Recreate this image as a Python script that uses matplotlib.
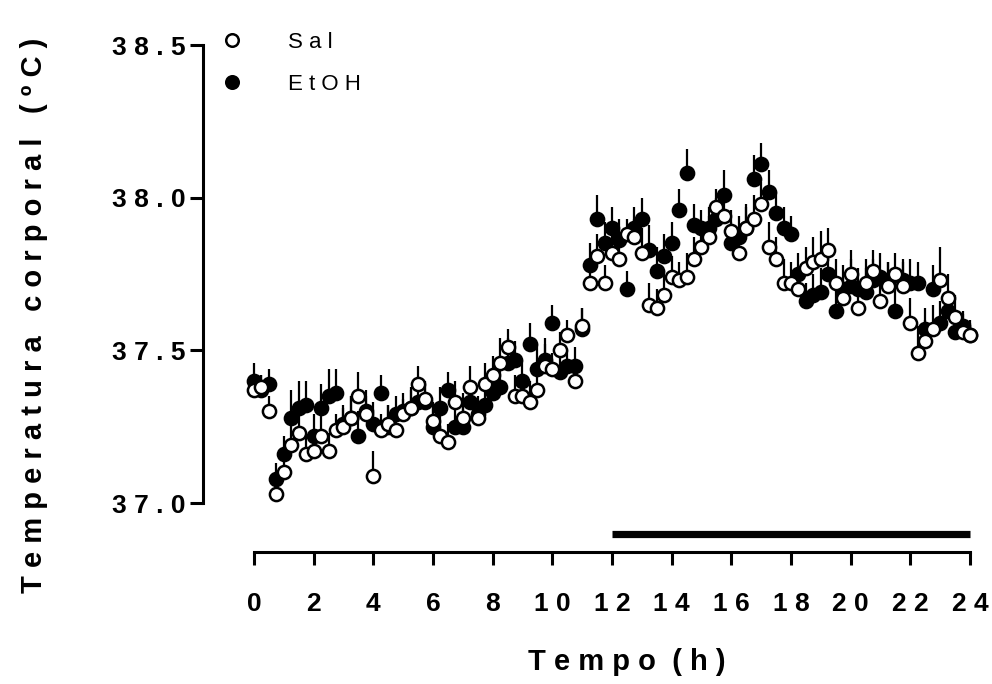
import matplotlib
matplotlib.use("Agg")
from matplotlib import pyplot as plt
import numpy as np

plt.rcParams['font.family'] = ['Liberation Sans', 'DejaVu Sans']

# time points (h), every 15 min
tempo = np.arange(0, 24.01, 0.25)

sal = [37.37, 37.38, 37.30, 37.03, 37.10, 37.19, 37.23, 37.16, 37.17, 37.22,
       37.17, 37.24, 37.25, 37.28, 37.35, 37.29, 37.09, 37.24, 37.26, 37.24,
       37.29, 37.31, 37.39, 37.34, 37.27, 37.22, 37.20, 37.33, 37.28, 37.38,
       37.28, 37.39, 37.42, 37.46, 37.51, 37.35, 37.35, 37.33, 37.37, 37.45,
       37.44, 37.50, 37.55, 37.40, 37.58, 37.72, 37.81, 37.72, 37.82, 37.80,
       37.88, 37.87, 37.82, 37.65, 37.64, 37.68, 37.74, 37.73, 37.74, 37.80,
       37.84, 37.87, 37.97, 37.94, 37.89, 37.82, 37.90, 37.93, 37.98, 37.84,
       37.80, 37.72, 37.72, 37.70, 37.77, 37.79, 37.80, 37.83, 37.72, 37.67,
       37.75, 37.64, 37.72, 37.76, 37.66, 37.71, 37.75, 37.71, 37.59, 37.49,
       37.53, 37.57, 37.73, 37.67, 37.61, 37.56, 37.55]
sal_sem = [0.05, 0.04, 0.05, 0.04, 0.06, 0.07, 0.08, 0.06, 0.05, 0.07,
           0.06, 0.05, 0.06, 0.07, 0.08, 0.06, 0.08, 0.05, 0.06, 0.05,
           0.05, 0.06, 0.06, 0.05, 0.06, 0.07, 0.06, 0.07, 0.08, 0.07,
           0.06, 0.07, 0.06, 0.08, 0.06, 0.07, 0.06, 0.07, 0.06, 0.07,
           0.05, 0.06, 0.05, 0.05, 0.06, 0.08, 0.07, 0.06, 0.07, 0.06,
           0.05, 0.06, 0.08, 0.07, 0.06, 0.08, 0.07, 0.06, 0.08, 0.07,
           0.06, 0.07, 0.06, 0.06, 0.07, 0.08, 0.07, 0.08, 0.07, 0.08,
           0.07, 0.08, 0.07, 0.06, 0.07, 0.08, 0.09, 0.07, 0.08, 0.07,
           0.08, 0.09, 0.08, 0.07, 0.09, 0.08, 0.07, 0.08, 0.08, 0.09,
           0.07, 0.08, 0.11, 0.08, 0.07, 0.06, 0.05]

etoh = [37.40, 37.37, 37.39, 37.08, 37.16, 37.28, 37.31, 37.32, 37.22, 37.31,
        37.35, 37.36, 37.26, 37.28, 37.22, 37.30, 37.26, 37.36, 37.25, 37.29,
        37.30, 37.31, 37.33, 37.33, 37.25, 37.31, 37.37, 37.25, 37.25, 37.33,
        37.29, 37.32, 37.36, 37.38, 37.46, 37.47, 37.40, 37.52, 37.44, 37.47,
        37.59, 37.43, 37.45, 37.45, 37.57, 37.78, 37.93, 37.85, 37.90, 37.86,
        37.70, 37.90, 37.93, 37.83, 37.76, 37.81, 37.85, 37.96, 38.08, 37.91,
        37.90, 37.90, 37.93, 38.01, 37.85, 37.87, 37.90, 38.06, 38.11, 38.02,
        37.95, 37.90, 37.88, 37.75, 37.66, 37.68, 37.69, 37.75, 37.63, 37.70,
        37.71, 37.70, 37.69, 37.73, 37.74, 37.72, 37.63, 37.73, 37.72, 37.72,
        37.57, 37.70, 37.59, 37.63, 37.56, 37.58, 37.55]
etoh_sem = [0.06, 0.05, 0.05, 0.05, 0.06, 0.09, 0.09, 0.08, 0.07, 0.08,
            0.09, 0.08, 0.06, 0.07, 0.08, 0.07, 0.07, 0.06, 0.07, 0.06,
            0.06, 0.07, 0.06, 0.07, 0.06, 0.07, 0.06, 0.07, 0.06, 0.07,
            0.06, 0.07, 0.06, 0.07, 0.08, 0.06, 0.07, 0.07, 0.08, 0.07,
            0.06, 0.06, 0.05, 0.06, 0.07, 0.07, 0.08, 0.07, 0.07, 0.07,
            0.06, 0.07, 0.07, 0.08, 0.08, 0.07, 0.07, 0.07, 0.08, 0.07,
            0.06, 0.07, 0.07, 0.08, 0.07, 0.07, 0.08, 0.08, 0.07, 0.07,
            0.07, 0.07, 0.06, 0.07, 0.06, 0.07, 0.08, 0.09, 0.07, 0.08,
            0.09, 0.07, 0.08, 0.07, 0.08, 0.07, 0.08, 0.07, 0.08, 0.07,
            0.07, 0.08, 0.07, 0.06, 0.06, 0.05, 0.04]

dark_phase = [12, 24]
dark_level = 36.90

yticks = [37.0, 37.5, 38.0, 38.5]
xticks = list(range(0, 25, 2))


def spaced(s):
    # letter-spaced text, a wider gap between words
    return '  '.join(' '.join(w) for w in s.split(' '))


fig = plt.figure(figsize=(9.92, 6.84), dpi=100)
ax = fig.add_axes([0.2560, 0.2646, 0.7218, 0.6696])

zeros = np.zeros(len(tempo))
ax.errorbar(tempo, etoh, yerr=[zeros, etoh_sem], fmt='none', ecolor='black',
            elinewidth=1.6, capsize=0, clip_on=False, zorder=2)
h_etoh, = ax.plot(tempo, etoh, 'o', ms=9.5, mfc='black', mec='black', mew=1.8,
                  clip_on=False, zorder=3, label=spaced('EtOH'))
ax.errorbar(tempo, sal, yerr=[zeros, sal_sem], fmt='none', ecolor='black',
            elinewidth=1.6, capsize=0, clip_on=False, zorder=4)
h_sal, = ax.plot(tempo, sal, 'o', ms=9.5, mfc='white', mec='black', mew=1.8,
                 clip_on=False, zorder=5, label=spaced('Sal'))

ax.plot(dark_phase, [dark_level, dark_level], color='black', lw=5.2,
        solid_capstyle='butt', clip_on=False)

ax.set_xlim(0, 24)
ax.set_ylim(37.0, 38.5)

for s in ['top', 'right']:
    ax.spines[s].set_visible(False)
ax.spines['left'].set_position(('outward', 36.5))
ax.spines['bottom'].set_position(('outward', 35.3))
ax.spines['left'].set_bounds(37.0, 38.5)
ax.spines['bottom'].set_bounds(0, 24)
ax.spines['left'].set_linewidth(2.2)
ax.spines['bottom'].set_linewidth(2.2)

ax.set_yticks(yticks)
ax.set_yticklabels([spaced(f'{v:.1f}') for v in yticks],
                   fontsize=19, fontweight='bold')
ax.set_xticks(xticks)
ax.set_xticklabels([spaced(str(v)) for v in xticks],
                   fontsize=19, fontweight='bold')
ax.tick_params(axis='both', length=9.5, width=2.2)
ax.tick_params(axis='y', pad=3.5)
ax.tick_params(axis='x', pad=19)

ax.set_ylabel(' '.join('Temperatura corporal (ºC)'), fontsize=21, fontweight='bold')
ax.yaxis.set_label_coords(-0.288, 0.41)
ax.set_xlabel(spaced('Tempo (h)'), fontsize=21, fontweight='bold')
ax.xaxis.set_label_coords(0.521, -0.317)

fig.legend(handles=[h_sal, h_etoh], loc='upper left',
           bbox_to_anchor=(0.223, 0.953), frameon=False, fontsize=16,
           handlelength=1.0, handletextpad=2.0, labelspacing=0.95,
           borderpad=0, borderaxespad=0, markerscale=0.95)

fig.savefig('out.png', dpi=100)
